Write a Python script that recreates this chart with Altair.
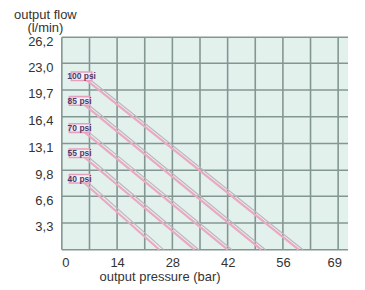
import altair as alt
import pandas as pd

# ---- data ----
x_ticks = [0, 14, 28, 42, 56, 69]
x_grid = [0, 7, 14, 21, 28, 35, 42, 49, 56, 63, 70]
y_ticks = [3.3, 6.6, 9.8, 13.1, 16.4, 19.7, 23.0, 26.2]
y_grid = [0, 3.3, 6.6, 9.8, 13.1, 16.4, 19.7, 23.0, 26.2]

series = ["100 psi", "85 psi", "70 psi", "55 psi", "40 psi"]
start_pressure = [5.0, 4.5, 4.5, 4.5, 4.5]
start_flow = [21.4, 18.35, 15.0, 11.9, 8.75]
end_pressure = [60.0, 50.5, 42.0, 33.6, 24.7]
end_flow = [0, 0, 0, 0, 0]

rows = []
for s, p0, f0, p1, f1 in zip(series, start_pressure, start_flow, end_pressure, end_flow):
    rows.append({"series": s, "pressure": p0, "flow": f0, "order": 0})
    rows.append({"series": s, "pressure": p1, "flow": f1, "order": 1})
curves = pd.DataFrame(rows)
labels = pd.DataFrame({"series": series, "pressure": start_pressure, "flow": start_flow})

xs = alt.Scale(domain=[0, 72.5], nice=False, zero=False)
ys = alt.Scale(domain=[0, 26.2], nice=False, zero=False)

FONT = "Liberation Sans"
GRID = "#839792"
FS = 13

x_axis = alt.Axis(values=x_ticks, title="output pressure (bar)", grid=False, ticks=False,
                  domain=False, labelPadding=7, labelFontSize=FS, labelColor="#333",
                  labelFont=FONT, labelOverlap=False,
                  titleFont=FONT, titleFontSize=FS, titleFontWeight="normal",
                  titleColor="#333", titleX=98, titleY=21, titleBaseline="top",
                  titleAnchor="middle")
y_axis = alt.Axis(values=y_ticks, title=["output flow", "(l/min)"], grid=False, ticks=False,
                  domain=False, labelPadding=9, labelFontSize=FS, labelColor="#333",
                  labelFont=FONT, labelOffset=4, labelOverlap=False, labelBound=False,
                  labelExpr="replace(format(datum.value, '.1f'), '.', ',')",
                  titleFont=FONT, titleFontSize=FS, titleFontWeight="normal",
                  titleColor="#333", titleAngle=0, titleX=-17, titleY=-16,
                  titleAlign="center", titleBaseline="bottom", titleLineHeight=13)

vgrid = alt.Chart(pd.DataFrame({"g": x_grid})).mark_rule(color=GRID, strokeWidth=1.6).encode(
    x=alt.X("g:Q", scale=xs, axis=x_axis),
)
hgrid = alt.Chart(pd.DataFrame({"g": y_grid})).mark_rule(color=GRID, strokeWidth=1.6).encode(
    y=alt.Y("g:Q", scale=ys, axis=y_axis),
)

shadow = alt.Chart(curves).transform_calculate(p2="datum.pressure + 1.1").mark_line(
    color="#c2b4bd", strokeWidth=1.1).encode(
    x=alt.X("p2:Q", scale=xs, axis=x_axis), y=alt.Y("flow:Q", scale=ys, axis=y_axis),
    detail="series:N", order="order:Q")

lines = alt.Chart(curves).mark_line(color="#eaa9c2", strokeWidth=2.2).encode(
    x=alt.X("pressure:Q", scale=xs, axis=x_axis), y=alt.Y("flow:Q", scale=ys, axis=y_axis),
    detail="series:N", order="order:Q")

bubble = alt.Chart(labels).mark_point(
    shape="M-1,-0.42 L1,-0.42 L1,0.42 L-1,0.42 Z", size=420, filled=True, fill="#f4eff6",
    stroke="#e89fbd", strokeWidth=1.6, opacity=1).encode(
    x=alt.X("pressure:Q", scale=xs, axis=x_axis), y=alt.Y("flow:Q", scale=ys, axis=y_axis))

text = alt.Chart(labels).mark_text(font=FONT, fontSize=8.5, fontWeight="bold", color="#4d3d6e").encode(
    x=alt.X("pressure:Q", scale=xs, axis=x_axis), y=alt.Y("flow:Q", scale=ys, axis=y_axis),
    text="series:N")

chart = alt.layer(vgrid, hgrid, shadow, lines, bubble, text).properties(
    width=287, height=213,
    autosize=alt.AutoSizeParams(type="none"),
    padding={"left": 54, "top": 29, "right": 9, "bottom": 37},
).configure_view(fill="#e3f1ed", stroke=None)

chart.save("out.html", embed_options={"renderer": "svg", "actions": False})
